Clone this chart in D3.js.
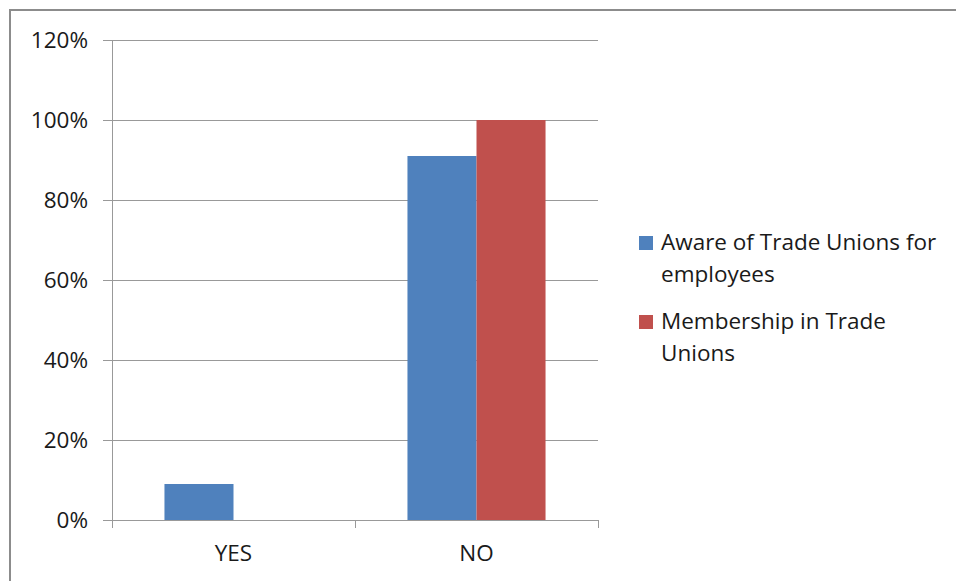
<!DOCTYPE html>
<html>
<head>
<meta charset="utf-8">
<script src="https://cdn.jsdelivr.net/npm/d3@7"></script>
<style>
  body { margin: 0; background: #fff; }
  svg text { font-family: "Open Sans", sans-serif; fill: #1a1a1a; }
</style>
</head>
<body>
<div id="chart"></div>
<script>
const categories = ["YES", "NO"];
const seriesNames = ["Aware of Trade Unions for employees", "Membership in Trade Unions"];
const awareValues = [0.09, 0.91];
const memberValues = [0, 1.0];
const yTicks = [0, 0.2, 0.4, 0.6, 0.8, 1.0, 1.2];
const colors = ["#4f81bd", "#c0504d"];

const width = 956, height = 581;
const margin = { top: 40, left: 112, plotW: 486, plotH: 480 };
const fontSize = 22.5;

const svg = d3.select("#chart")
    .append("svg")
    .attr("width", width)
    .attr("height", height);

// outer frame (only top and left edges visible)
svg.append("rect")
    .attr("x", 10)
    .attr("y", 10)
    .attr("width", 1000)
    .attr("height", 700)
    .attr("fill", "none")
    .attr("stroke", "#8c8c8c")
    .attr("stroke-width", 2);

const g = svg.append("g")
    .attr("transform", `translate(${margin.left},${margin.top})`);

const x0 = d3.scaleBand()
    .domain(categories)
    .range([0, margin.plotW]);

// gap width ~150% of one bar
const barW = x0.bandwidth() / 3.52;
const x1 = d3.scaleBand()
    .domain([0, 1])
    .range([(x0.bandwidth() - 2 * barW) / 2, (x0.bandwidth() + 2 * barW) / 2]);

const y = d3.scaleLinear()
    .domain([0, 1.2])
    .range([margin.plotH, 0]);

// gridlines
g.selectAll("line.grid")
    .data(yTicks)
    .join("line")
    .attr("class", "grid")
    .attr("x1", -9)
    .attr("x2", margin.plotW)
    .attr("y1", d => Math.round(y(d)) + 0.5)
    .attr("y2", d => Math.round(y(d)) + 0.5)
    .attr("stroke", "#999")
    .attr("stroke-width", 1);

// y labels
g.selectAll("text.ylab")
    .data(yTicks)
    .join("text")
    .attr("class", "ylab")
    .attr("x", -24)
    .attr("y", d => y(d))
    .attr("dy", "0.36em")
    .attr("text-anchor", "end")
    .attr("font-size", fontSize)
    .text(d => d3.format(".0%")(d));

const rows = categories.map((c, i) => ({ cat: c, vals: [awareValues[i], memberValues[i]] }));

const groups = g.selectAll("g.cat")
    .data(rows)
    .join("g")
    .attr("class", "cat")
    .attr("transform", d => `translate(${x0(d.cat)},0)`);

groups.selectAll("rect")
    .data(d => d.vals.map((v, k) => ({ v, k })))
    .join("rect")
    .attr("x", d => x1(d.k))
    .attr("width", barW)
    .attr("y", d => y(d.v))
    .attr("height", d => y(0) - y(d.v))
    .attr("fill", d => colors[d.k]);

// y axis line
g.append("line")
    .attr("x1", 0.5).attr("x2", 0.5)
    .attr("y1", 0).attr("y2", margin.plotH + 8)
    .attr("stroke", "#999");

// x axis line and category ticks
g.append("line")
    .attr("x1", 0).attr("x2", margin.plotW)
    .attr("y1", margin.plotH + 0.5).attr("y2", margin.plotH + 0.5)
    .attr("stroke", "#999");

const catEdges = [0].concat(categories.map(c => x0(c) + x0.bandwidth()));
g.selectAll("line.xtick")
    .data(catEdges)
    .join("line")
    .attr("class", "xtick")
    .attr("x1", d => Math.round(d) + 0.5)
    .attr("x2", d => Math.round(d) + 0.5)
    .attr("y1", margin.plotH)
    .attr("y2", margin.plotH + 8)
    .attr("stroke", "#999");

g.selectAll("text.xlab")
    .data(categories)
    .join("text")
    .attr("class", "xlab")
    .attr("x", d => x0(d) + x0.bandwidth() / 2)
    .attr("y", margin.plotH + 41)
    .attr("text-anchor", "middle")
    .attr("font-size", fontSize)
    .text(d => d);

// legend
const legendLines = [["Aware of Trade Unions for", "employees"], ["Membership in Trade", "Unions"]];
const legend = svg.append("g")
    .attr("transform", "translate(639,236)");

const items = legend.selectAll("g")
    .data(legendLines)
    .join("g")
    .attr("transform", (d, i) => `translate(0,${i * 79})`);

items.append("rect")
    .attr("width", 14)
    .attr("height", 14)
    .attr("fill", (d, i) => colors[i]);

items.append("text")
    .attr("x", 22)
    .attr("y", 14)
    .attr("font-size", fontSize)
    .selectAll("tspan")
    .data(d => d)
    .join("tspan")
    .attr("x", 22)
    .attr("dy", (d, i) => i === 0 ? 0 : 32)
    .text(d => d);
</script>
</body>
</html>
